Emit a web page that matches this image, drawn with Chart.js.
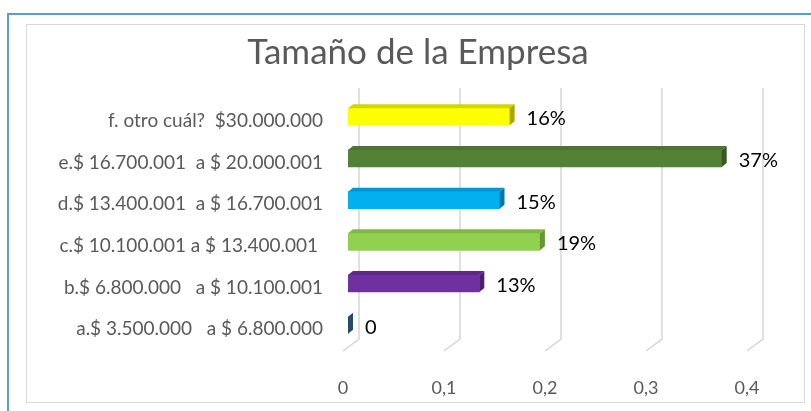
<!DOCTYPE html>
<html>
<head>
<meta charset="utf-8">
<script src="https://cdn.jsdelivr.net/npm/chart.js@4"></script>
<style>
  body { margin: 0; background: #fff; }
  #wrap { position: relative; width: 811px; height: 411px; overflow: hidden; }
  #outer { position: absolute; left: 7px; top: 13px; width: 900px; height: 500px; border-left: 2px solid #5b9bd5; border-top: 2px solid #5b9bd5; }
  #inner { position: absolute; left: 26px; top: 24px; width: 777px; height: 377px; border: 1.5px solid #d9d9d9; }
  canvas { position: absolute; left: 0; top: 0; }
</style>
</head>
<body>
<div id="wrap">
  <div id="outer"></div>
  <div id="inner"></div>
  <canvas id="chart" width="811" height="411"></canvas>
</div>
<script>
  // -------------------------
  // Data
  // -------------------------
  const chartTitle = "Tamaño de la Empresa";
  const categories = [
    "a.$ 3.500.000   a $ 6.800.000",
    "b.$ 6.800.000   a $ 10.100.001",
    "c.$ 10.100.001 a $ 13.400.001 ",
    "d.$ 13.400.001  a $ 16.700.001",
    "e.$ 16.700.001  a $ 20.000.001",
    "f. otro cuál?  $30.000.000"
  ];
  const shares = [0, 0.13, 0.19, 0.15, 0.37, 0.16];
  const xTicks = [0, 0.1, 0.2, 0.3, 0.4];

  const frontColors = ["#2f5f8a", "#7030a0", "#92d050", "#00b0f0", "#548235", "#ffff00"];
  const topColors   = ["#3a6f9c", "#5e2789", "#7fb846", "#0096cf", "#4a742f", "#d4d400"];
  const sideColors  = ["#244a6c", "#4a1f6e", "#67963a", "#0078a8", "#385723", "#a8a800"];

  const FONT = "Lato, 'Open Sans', sans-serif";
  const DX = 5, DY = 4;

  // -------------------------
  // 3D look: back wall grid + bar faces + labels, title
  // -------------------------
  const threeD = {
    id: "threeD",
    beforeDatasetsDraw(chart) {
      const { ctx, chartArea, scales } = chart;
      ctx.save();
      ctx.strokeStyle = "#d6d6d6";
      ctx.lineWidth = 1.5;
      xTicks.forEach(v => {
        const px = scales.x.getPixelForValue(v);
        ctx.beginPath();
        ctx.moveTo(px + 11, chartArea.top - 8);
        ctx.lineTo(px + 11, chartArea.bottom - 7);
        ctx.lineTo(px - 5, chartArea.bottom + 5);
        ctx.stroke();
      });
      ctx.restore();
    },
    afterDatasetsDraw(chart) {
      const { ctx } = chart;
      const meta = chart.getDatasetMeta(0);
      ctx.save();
      meta.data.forEach((bar, i) => {
        const { x, y, base, height } = bar.getProps(["x", "y", "base", "height"], true);
        const top = y - height / 2, bottom = y + height / 2;
        // top face
        ctx.fillStyle = topColors[i];
        ctx.beginPath();
        ctx.moveTo(base, top);
        ctx.lineTo(x, top);
        ctx.lineTo(x + DX, top - DY);
        ctx.lineTo(base + DX, top - DY);
        ctx.closePath();
        ctx.fill();
        // side face
        ctx.fillStyle = sideColors[i];
        ctx.beginPath();
        ctx.moveTo(x, top);
        ctx.lineTo(x + DX, top - DY);
        ctx.lineTo(x + DX, bottom - DY);
        ctx.lineTo(x, bottom);
        ctx.closePath();
        ctx.fill();
        // value label
        const v = shares[i];
        ctx.fillStyle = "#000";
        ctx.font = "20px " + FONT;
        ctx.textAlign = "left";
        ctx.textBaseline = "middle";
        ctx.fillText(v === 0 ? "0" : Math.round(v * 100) + "%", x + DX + 12, y + 2);
      });
      ctx.restore();
    },
    afterDraw(chart) {
      // title centred over the frame, not over the plot box
      const { ctx } = chart;
      ctx.save();
      ctx.fillStyle = "#595959";
      ctx.font = "35px " + FONT;
      ctx.textAlign = "center";
      ctx.textBaseline = "middle";
      ctx.fillText(chartTitle, 418, 53);
      ctx.restore();
    }
  };

  new Chart(document.getElementById("chart"), {
    type: "bar",
    data: {
      labels: categories,
      datasets: [{
        data: shares,
        backgroundColor: frontColors,
        barThickness: 17,
        borderWidth: 0
      }]
    },
    options: {
      indexAxis: "y",
      responsive: false,
      animation: false,
      layout: { padding: { top: 96, right: 59, bottom: 0, left: 0 } },
      plugins: {
        legend: { display: false },
        tooltip: { enabled: false },
        title: { display: false }
      },
      scales: {
        x: {
          min: 0,
          max: 0.4,
          afterFit: s => { s.height = 65; },
          afterBuildTicks: s => { s.ticks = xTicks.map(v => ({ value: v })); },
          grid: { display: false },
          border: { display: false },
          ticks: {
            padding: 23,
            labelOffset: -5,
            color: "#595959",
            font: { family: FONT, size: 18 },
            callback: v => String(v).replace(".", ",")
          }
        },
        y: {
          reverse: true,
          afterFit: s => { s.width = 348; },
          grid: { display: false },
          border: { display: false },
          ticks: {
            padding: 17,
            labelOffset: 4,
            color: "#595959",
            font: { family: FONT, size: 19 }
          }
        }
      }
    },
    plugins: [threeD]
  });
</script>
</body>
</html>
